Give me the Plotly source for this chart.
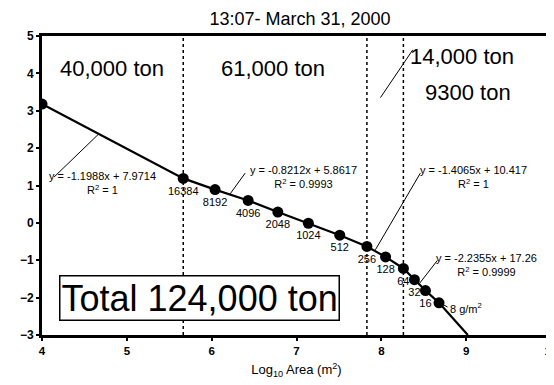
import plotly.graph_objects as go

# ---- data ----
log_area = [4.0, 5.665, 6.04, 6.43, 6.78, 7.14, 7.51, 7.83, 8.05, 8.26, 8.39, 8.52, 8.68]
log_mass = [3.18, 1.19, 0.89, 0.60, 0.29, -0.01, -0.33, -0.63, -0.91, -1.22, -1.52, -1.81, -2.14]
point_labels = ["", "16384", "8192", "4096", "2048", "1024", "512", "256", "128", "64", "32", "16", ""]
line_end_x = [9.02]
line_end_y = [-3.0]
boundary_x = [5.665, 7.83, 8.26]
region_labels = ["40,000 ton", "61,000 ton", "14,000 ton", "9300 ton"]
total_label = "Total 124,000 ton"
equations = [
    "y = -1.1988x + 7.9714<br>R<sup>2</sup> = 1",
    "y = -0.8212x + 5.8617<br>R<sup>2</sup> = 0.9993",
    "y = -1.4065x + 10.417<br>R<sup>2</sup> = 1",
    "y = -2.2355x + 17.26<br>R<sup>2</sup> = 0.9999",
]
x_ticks = [4, 5, 6, 7, 8, 9, 10]
y_ticks = [-3, -2, -1, 0, 1, 2, 3, 4, 5]

fig = go.Figure()

fig.add_trace(go.Scatter(
    x=log_area + line_end_x, y=log_mass + line_end_y,
    mode="lines", line=dict(color="black", width=2.2),
    hoverinfo="skip", showlegend=False))

fig.add_trace(go.Scatter(
    x=log_area, y=log_mass, mode="markers+text",
    marker=dict(color="black", size=11),
    text=point_labels, textposition="bottom center",
    textfont=dict(family="Arial", size=11, color="black"),
    showlegend=False))

for bx in boundary_x:
    fig.add_shape(type="line", x0=bx, x1=bx, y0=0, y1=1, xref="x", yref="paper",
                  line=dict(color="black", width=1.5, dash="3px,3px"))

# region labels
reg_pos = [(4.82, 4.12), (6.72, 4.12), (8.95, 4.45), (9.02, 3.48)]
for txt, (px, py) in zip(region_labels, reg_pos):
    fig.add_annotation(x=px, y=py, text=txt, showarrow=False,
                       font=dict(family="Arial", size=22, color="black"))
fig.add_shape(type="line", x0=7.99, y0=3.352, x1=8.37, y1=4.628,
              line=dict(color="black", width=1))

# total box
fig.add_annotation(x=4.2, y=-2.02, xanchor="left", text=total_label, showarrow=False,
                   font=dict(family="Arial", size=36, color="black"),
                   bordercolor="black", borderwidth=1.5, borderpad=1, bgcolor="white")

# equations with leader lines
eq_pos = [(4.71, 1.07), (7.08, 1.23), (9.09, 1.24), (9.24, -1.14)]
leaders = [((4.142, 1.226), (4.664, 2.369)),
           ((6.395, 1.332), (6.217, 0.774)),
           ((8.46, 1.332), (7.93, -0.72)),
           ((8.66, -1.007), (8.45, -1.62))]
for txt, (px, py) in zip(equations, eq_pos):
    fig.add_annotation(x=px, y=py, text=txt, showarrow=False,
                       font=dict(family="Arial", size=11, color="black"))
for (a, b) in leaders:
    fig.add_shape(type="line", x0=a[0], y0=a[1], x1=b[0], y1=b[1],
                  line=dict(color="black", width=1))

fig.add_annotation(x=8.78, y=-2.28, xanchor="left", text="8 g/m<sup>2</sup>", showarrow=False,
                   font=dict(family="Arial", size=11, color="black"))
fig.add_shape(type="line", x0=8.72, y0=-2.176, x1=8.78, y1=-2.25,
              line=dict(color="black", width=1))

fig.update_layout(
    width=554, height=385,
    margin=dict(l=34, r=11, t=28, b=58, autoexpand=False),
    paper_bgcolor="white", plot_bgcolor="white",
    title=dict(text="13:07- March 31, 2000", x=0.527, xanchor="center",
               yref="container", y=0.972, yanchor="middle",
               font=dict(family="Arial", size=18, color="black")),
    xaxis=dict(range=[4, 10], tickvals=x_ticks, showgrid=False, zeroline=False,
               showline=True, linecolor="black", linewidth=3, mirror=True,
               ticks="outside", ticklen=3, tickwidth=1.5, tickcolor="black",
               automargin=False, ticklabeloverflow="allow",
               tickfont=dict(family="Arial", size=11.5, color="black", weight="bold"),
               title=dict(text="Log<sub>10</sub> Area (m<sup>2</sup>)", standoff=10,
                          font=dict(family="Arial", size=13, color="black"))),
    yaxis=dict(range=[-3, 5], tickvals=y_ticks, showgrid=False, zeroline=False,
               showline=True, linecolor="black", linewidth=3, mirror=True,
               ticks="outside", ticklen=3, tickwidth=1.5, tickcolor="black",
               automargin=False,
               tickfont=dict(family="Arial", size=12, color="black", weight="bold")),
)

fig.write_html("out.html")
